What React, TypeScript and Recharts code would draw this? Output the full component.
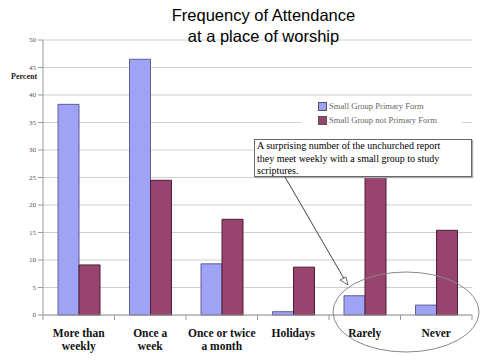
import { BarChart, Bar, XAxis, YAxis, CartesianGrid } from "recharts";

const categories = [
  "More than\nweekly",
  "Once a\nweek",
  "Once or twice\na month",
  "Holidays",
  "Rarely",
  "Never",
];
const primaryForm = [38.3, 46.5, 9.3, 0.6, 3.5, 1.8];
const notPrimaryForm = [9.1, 24.5, 17.4, 8.7, 25.0, 15.4];
const yTicks = [0, 5, 10, 15, 20, 25, 30, 35, 40, 45, 50];
const seriesNames = ["Small Group Primary Form", "Small Group not Primary Form"];
const noteLines = [
  "A surprising number of the unchurched report",
  "they meet weekly with a small group to study",
  "scriptures.",
];

const data = categories.map((c, i) => ({
  category: c,
  primary: primaryForm[i],
  notPrimary: notPrimaryForm[i],
}));

const BLUE = "#9FA3F6";
const PURPLE = "#99446F";
const seriesColors = [BLUE, PURPLE];

function CategoryTick(props: any) {
  const { x, y, payload } = props;
  const half = payload && payload.offset ? payload.offset : 35.75;
  const lines = String(payload.value).split("\n");
  return (
    <g>
      <line x1={x + half} y1={y - 8} x2={x + half} y2={y - 3} stroke="#999" />
      {payload.index === 0 && (
        <line x1={x - half} y1={y - 8} x2={x - half} y2={y - 3} stroke="#999" />
      )}
      {lines.map((l: string, i: number) => (
        <text
          key={i}
          x={x}
          y={y + 14 + i * 13}
          textAnchor="middle"
          fontFamily="Liberation Serif"
          fontWeight="bold"
          fontSize={11.5}
          fill="#111"
        >
          {l}
        </text>
      ))}
    </g>
  );
}

export default function App() {
  return (
    <div style={{ position: "absolute", left: 0, top: 0, width: 497, height: 364, background: "#fff" }}>
      <BarChart
        width={497}
        height={364}
        data={data}
        margin={{ top: 40, right: 25, left: 0, bottom: 0 }}
        barCategoryGap="21%"
        barGap={0}
        style={{ position: "absolute", left: 0, top: 0 }}
      >
        <CartesianGrid vertical={false} stroke="#cfcfcf" />
        <XAxis
          dataKey="category"
          height={49}
          axisLine={{ stroke: "#999" }}
          tickLine={false}
          interval={0}
          tick={<CategoryTick />}
        />
        <YAxis
          width={43}
          domain={[0, 50]}
          ticks={yTicks}
          axisLine={{ stroke: "#999" }}
          tickLine={{ stroke: "#999" }}
          tickSize={5}
          tick={{ fontSize: 7, fill: "#555", fontFamily: "Liberation Serif" }}
        />
        <Bar
          dataKey="primary"
          name={seriesNames[0]}
          fill={BLUE}
          stroke="#5E5E98"
          strokeWidth={1}
          isAnimationActive={false}
        />
        <Bar
          dataKey="notPrimary"
          name={seriesNames[1]}
          fill={PURPLE}
          stroke="#4A1F37"
          strokeWidth={1}
          isAnimationActive={false}
        />
      </BarChart>
      <div
        style={{
          position: "absolute",
          left: 0,
          top: 5,
          width: 527,
          textAlign: "center",
          fontFamily: "Liberation Sans",
          fontSize: 16.5,
          lineHeight: "21px",
          color: "#000",
        }}
      >
        Frequency of Attendance
        <br />
        at a place of worship
      </div>
      <div
        style={{
          position: "absolute",
          left: 11,
          top: 72,
          fontFamily: "Liberation Serif",
          fontWeight: "bold",
          fontSize: 8,
          color: "#222",
        }}
      >
        Percent
      </div>
      <div
        style={{
          position: "absolute",
          left: 301,
          top: 96,
          width: 161,
          background: "#fff",
          padding: "3px 0 3px 17px",
          boxSizing: "border-box",
        }}
      >
        {seriesNames.map((n, i) => (
          <div
            key={i}
            style={{
              display: "flex",
              alignItems: "center",
              height: 14,
              fontFamily: "Liberation Serif",
              fontSize: 8.6,
              color: "#666",
            }}
          >
            <span
              style={{
                width: 7,
                height: 7,
                background: seriesColors[i],
                border: "1px solid #555",
                marginRight: 2,
                display: "inline-block",
              }}
            />
            {n}
          </div>
        ))}
      </div>
      <div
        style={{
          position: "absolute",
          left: 254,
          top: 139,
          width: 218,
          height: 38,
          border: "1px solid #666",
          background: "#fff",
          fontFamily: "Liberation Serif",
          fontSize: 10,
          lineHeight: "12.5px",
          color: "#000",
          paddingLeft: 2,
          boxSizing: "border-box",
          boxShadow: "1px 1px 1px #aaa",
        }}
      >
        {noteLines.map((l, i) => (
          <div key={i} style={{ whiteSpace: "nowrap" }}>{l}</div>
        ))}
      </div>
      <svg
        width={497}
        height={364}
        style={{ position: "absolute", left: 0, top: 0, pointerEvents: "none" }}
      >
        <line x1={285} y1={177} x2={346} y2={282} stroke="#444" strokeWidth={1} />
        <polygon points="348,285 340,280 346,277" fill="#fff" stroke="#444" strokeWidth={0.8} />
        <ellipse cx={406} cy={312} rx={73} ry={40} fill="none" stroke="#888" strokeWidth={1} />
      </svg>
    </div>
  );
}
